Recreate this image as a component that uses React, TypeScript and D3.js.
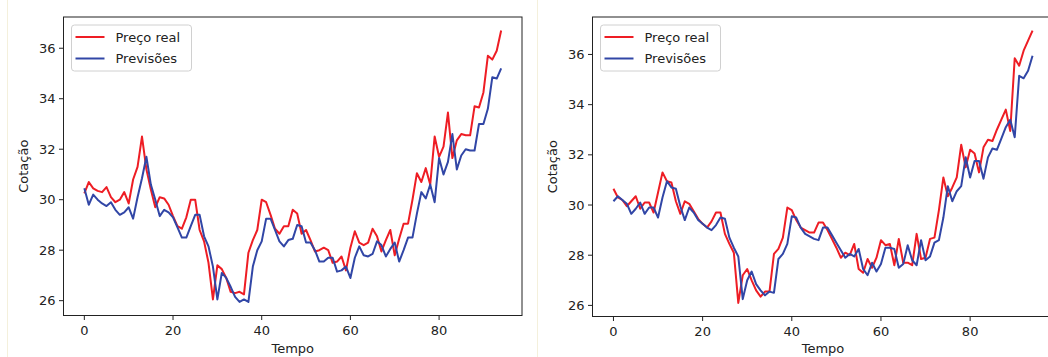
import * as d3 from 'd3';

// data (Tempo 0..94)
const tempo = d3.range(95);

const realA = [
  30.25, 30.7, 30.45, 30.35, 30.3, 30.5, 30.1, 29.9, 30.0, 30.3,
  29.85, 30.8, 31.3, 32.5, 31.2, 30.4, 29.7, 30.1, 30.05, 29.8,
  29.35, 28.95, 28.85, 29.3, 30.0, 30.0, 28.8, 28.35, 27.5, 26.05,
  27.4, 27.25, 26.9, 26.35, 26.3, 26.35, 26.25, 27.9, 28.4, 28.8,
  30.0, 29.9, 29.4, 28.85, 28.65, 28.95, 28.95, 29.6, 29.45, 28.65,
  28.8, 28.4, 27.95, 28.0, 28.1, 28.0, 27.5, 27.55, 27.75, 27.2,
  28.1, 28.75, 28.3, 28.2, 28.3, 28.85, 28.55, 27.95, 28.4, 28.8,
  27.8, 28.45, 29.05, 29.05, 30.0, 31.05, 30.7, 31.25, 30.6, 32.5,
  31.7, 32.1, 33.45, 31.65, 32.35, 32.6, 32.55, 32.55, 33.7, 33.65,
  34.25, 35.7, 35.55, 35.9, 36.7,
];
const predA = [
  30.45, 29.8, 30.2, 30.0, 29.85, 29.75, 29.9, 29.6, 29.4, 29.5,
  29.7, 29.25, 30.1, 30.85, 31.7, 30.6, 30.0, 29.35, 29.6, 29.5,
  29.3, 28.9, 28.5, 28.5, 28.95, 29.4, 29.4, 28.55, 28.15, 27.35,
  26.05, 27.1, 26.9, 26.55, 26.15, 25.95, 26.05, 25.95, 27.35, 28.0,
  28.35, 29.25, 29.25, 28.8, 28.35, 28.15, 28.4, 28.45, 29.0, 28.95,
  28.3, 28.3, 28.0, 27.55, 27.55, 27.7, 27.7, 27.15, 27.2, 27.35,
  26.9, 27.7, 28.15, 27.8, 27.75, 27.85, 28.35, 28.2, 27.75, 28.05,
  28.3, 27.55, 28.0, 28.5, 28.5, 29.45, 30.3, 30.05, 30.6, 29.9,
  31.65, 31.0, 31.5, 32.6, 31.2, 31.75, 32.0, 31.95, 31.95, 33.0,
  33.0, 33.6, 34.85, 34.8, 35.2,
];
const realB = [
  30.65, 30.3, 30.2, 29.95, 30.15, 30.35, 29.85, 30.1, 30.1, 29.7,
  30.5, 31.3, 30.95, 30.9, 30.15, 29.65, 30.15, 30.05, 29.75, 29.45,
  29.25, 29.1, 29.35, 29.7, 29.7, 28.85, 28.45, 28.1, 26.1, 27.2,
  27.45, 27.0, 26.6, 26.35, 26.55, 26.55, 28.05, 28.25, 28.7, 29.9,
  29.8, 29.4, 29.1, 29.0, 28.9, 28.9, 29.3, 29.3, 29.0, 28.65,
  28.3, 27.9, 28.1, 28.0, 28.45, 27.45, 27.3, 27.85, 27.5, 27.9,
  28.6, 28.4, 28.45, 27.6, 28.65, 27.7, 27.7, 27.6, 28.85, 27.85,
  27.9, 28.65, 28.7, 29.8, 31.1, 30.35, 30.7, 31.1, 32.4, 31.5,
  32.2, 32.05, 31.3, 32.3, 32.6, 32.55, 33.0, 33.4, 33.8, 32.95,
  35.85, 35.55, 36.15, 36.55, 36.95,
];
const predB = [
  30.15, 30.35, 30.2, 30.05, 29.65, 29.85, 30.1, 29.65, 29.9, 29.9,
  29.5, 30.3, 30.95, 30.7, 30.65, 29.95, 29.4, 29.9, 29.7, 29.4,
  29.25, 29.1, 29.0, 29.2, 29.5, 29.45, 28.7, 28.3, 27.95, 26.25,
  27.0, 27.35, 26.85, 26.6, 26.4, 26.55, 26.5, 27.85, 28.05, 28.45,
  29.55, 29.5, 29.1, 28.85, 28.75, 28.65, 28.6, 29.1, 29.1, 28.8,
  28.5, 28.2, 27.9, 28.05, 27.95, 28.25, 27.45, 27.2, 27.7, 27.35,
  27.65, 28.3, 28.3, 28.25, 27.5, 27.65, 28.4, 27.8, 27.6, 28.6,
  27.8, 27.95, 28.5, 28.6, 29.5, 30.75, 30.15, 30.55, 30.75, 31.9,
  31.1, 31.75, 31.75, 31.05, 31.9, 32.25, 32.2, 32.65, 33.1, 33.4,
  32.7, 35.15, 35.05, 35.35, 35.95,
];

const xTicks = [0, 20, 40, 60, 80];
const yTicks = [26, 28, 30, 32, 34, 36];
const seriesNames = ['Preço real', 'Previsões'];

const RED = '#ee1d24';
const BLUE = '#3146a6';
const FONT = "'DejaVu Sans', sans-serif";

interface PanelProps {
  real: number[];
  pred: number[];
  left: number;
  right: number;
  top: number;
  bottom: number;
}

function Panel({ real, pred, left, right, top, bottom }: PanelProps) {
  // matplotlib-style 5% margins
  const xExt = d3.extent(tempo) as [number, number];
  const xPad = (xExt[1] - xExt[0]) * 0.05;
  const x = d3.scaleLinear().domain([xExt[0] - xPad, xExt[1] + xPad]).range([left, right]);

  const yExt = d3.extent([...real, ...pred]) as [number, number];
  const yPad = (yExt[1] - yExt[0]) * 0.05;
  const y = d3.scaleLinear().domain([yExt[0] - yPad, yExt[1] + yPad]).range([bottom, top]);

  const line = d3
    .line<number>()
    .x((_, i) => x(tempo[i]))
    .y((d) => y(d));

  const colors = [RED, BLUE];
  const lgX = left + 8;
  const lgY = top + 8;

  return (
    <g>
      <path d={line(real) ?? ''} fill="none" stroke={RED} strokeWidth={2} strokeLinejoin="round" />
      <path d={line(pred) ?? ''} fill="none" stroke={BLUE} strokeWidth={2} strokeLinejoin="round" />

      <rect x={left} y={top} width={right - left} height={bottom - top} fill="none" stroke="#222" strokeWidth={1} />

      {/* x axis */}
      {xTicks.map((t) => (
        <g key={`x${t}`} transform={`translate(${x(t)},${bottom})`}>
          <line y2={4.5} stroke="#222" />
          <text y={19} textAnchor="middle" fontSize={13} fill="#222" fontFamily={FONT}>
            {t}
          </text>
        </g>
      ))}
      <text x={(left + right) / 2} y={353} textAnchor="middle" fontSize={13} fill="#222" fontFamily={FONT}>
        Tempo
      </text>

      {/* y axis */}
      {yTicks.map((t) => (
        <g key={`y${t}`} transform={`translate(${left},${y(t)})`}>
          <line x2={-4.5} stroke="#222" />
          <text x={-8} dy="0.35em" textAnchor="end" fontSize={13} fill="#222" fontFamily={FONT}>
            {t}
          </text>
        </g>
      ))}
      <text
        transform={`translate(${left - 36},${(top + bottom) / 2}) rotate(-90)`}
        textAnchor="middle"
        fontSize={13}
        fill="#222"
        fontFamily={FONT}
      >
        Cotação
      </text>

      {/* legend */}
      <rect x={lgX} y={lgY} width={120} height={46} rx={3} fill="white" fillOpacity={0.8} stroke="#d0d0d0" />
      {seriesNames.map((name, i) => (
        <g key={name} transform={`translate(${lgX + 4},${lgY + 12 + i * 21.5})`}>
          <line x1={0} x2={29} stroke={colors[i]} strokeWidth={2} />
          <text x={40} dy="0.35em" fontSize={13} fill="#222" fontFamily={FONT}>
            {name}
          </text>
        </g>
      ))}
    </g>
  );
}

export default function App() {
  return (
    <svg
      width={1048}
      height={357}
      style={{ position: 'absolute', left: 0, top: 0, background: 'white' }}
    >
      <line x1={7.5} x2={7.5} y1={0} y2={357} stroke="#f4f0dc" />
      <line x1={537.5} x2={537.5} y1={0} y2={357} stroke="#f4f0dc" />
      <Panel real={realA} pred={predA} left={63.5} right={522} top={17} bottom={315.5} />
      <Panel real={realB} pred={predB} left={592.5} right={1053.5} top={17} bottom={316.5} />
    </svg>
  );
}
